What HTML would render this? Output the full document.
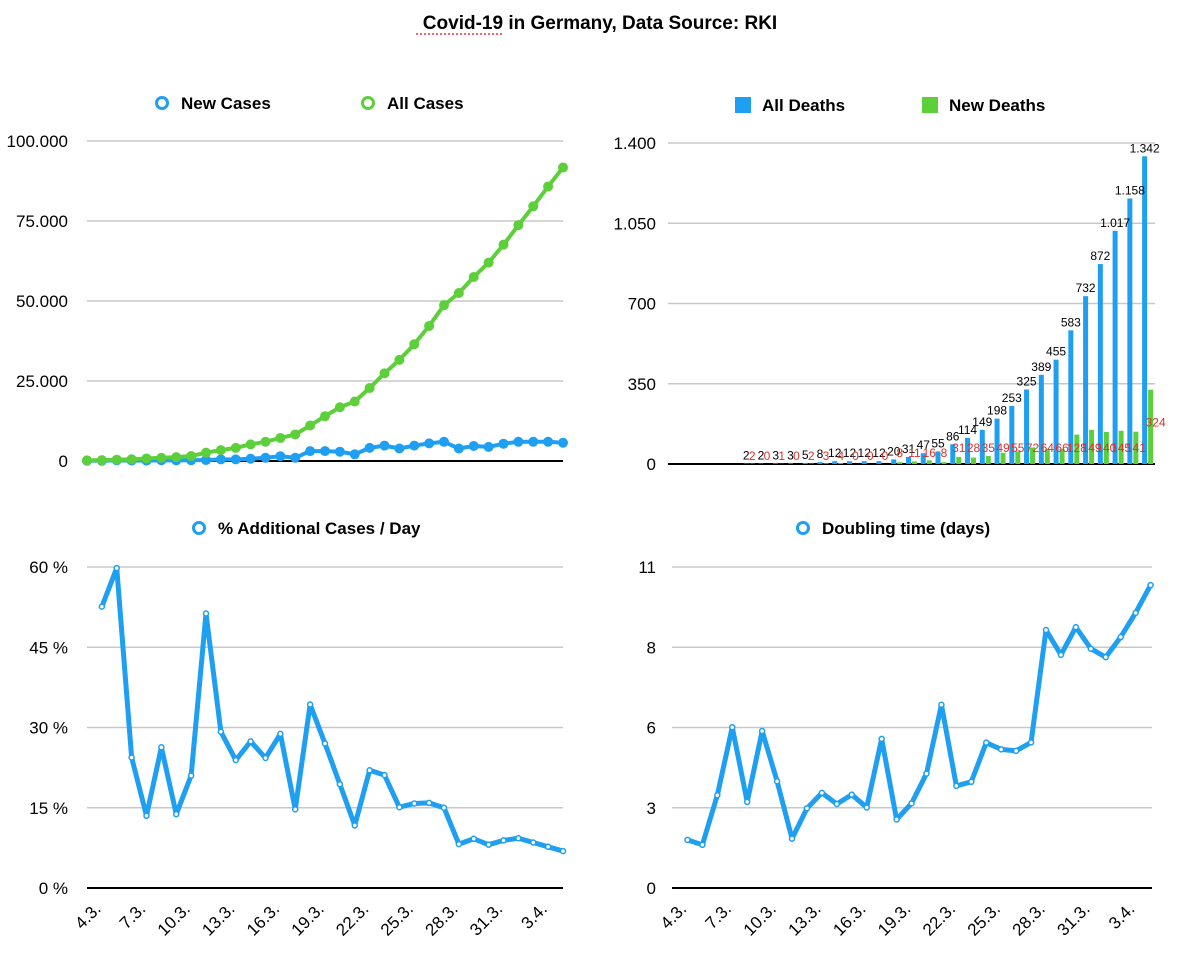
<!DOCTYPE html>
<html><head><meta charset="utf-8"><style>
html,body{margin:0;padding:0;background:#fff;}
svg{display:block;font-family:"Liberation Sans",Arial,sans-serif;}
</style></head><body>
<svg id="c" width="1200" height="957" viewBox="0 0 1200 957">
<text x="600" y="29" text-anchor="middle" font-size="19" font-weight="bold">Covid-19 in Germany, Data Source: RKI</text>
<line x1="416" y1="34" x2="503" y2="34" stroke="#e33" stroke-width="1.5" stroke-dasharray="2,2"/>
</svg>
<script>
const dates = ["3.3.","4.3.","5.3.","6.3.","7.3.","8.3.","9.3.","10.3.","11.3.","12.3.","13.3.","14.3.","15.3.","16.3.","17.3.","18.3.","19.3.","20.3.","21.3.","22.3.","23.3.","24.3.","25.3.","26.3.","27.3.","28.3.","29.3.","30.3.","31.3.","1.4.","2.4.","3.4.","4.4."];
const allCases = [200,260,400,530,800,1000,1200,1550,2600,3400,4100,5200,6000,7200,8300,11100,14000,16800,18600,22800,27400,31600,36500,42200,48700,52500,57500,62000,67600,73700,79600,85800,91700];
const newCases = [100,60,200,150,130,250,200,250,300,500,500,700,1000,1500,1000,3100,3100,2900,2100,4100,4800,3900,4800,5500,6000,3900,4700,4400,5400,6000,6000,6000,5700];
const allDeaths = [0,0,0,0,0,2,2,3,3,5,8,12,12,12,12,20,31,47,55,86,114,149,198,253,325,389,455,583,732,872,1017,1158,1342];
const newDeaths = [0,0,0,0,0,2,0,1,0,2,3,4,0,0,0,8,11,16,8,31,28,35,49,55,72,64,66,128,149,140,145,141,324];
const pctAdd = [52.6,59.8,24.4,13.5,26.3,13.8,21.0,51.3,29.2,23.9,27.4,24.3,28.8,14.7,34.3,27.0,19.4,11.7,22.0,21.1,15.1,15.8,15.9,15.0,8.2,9.2,8.1,8.9,9.3,8.5,7.7,6.9];
const doubling = [1.65,1.48,3.18,5.51,2.95,5.38,3.66,1.69,2.73,3.26,2.88,3.2,2.76,5.11,2.35,2.9,3.92,6.28,3.5,3.64,4.98,4.75,4.70,4.99,8.84,7.99,8.94,8.2,7.91,8.6,9.43,10.38];
const casesTicks = ["0","25.000","50.000","75.000","100.000"];
const deathTicks = ["0","350","700","1.050","1.400"];
const pctTicks = ["0 %","15 %","30 %","45 %","60 %"];
const dblTicks = ["0","3","6","8","11"];

const NS="http://www.w3.org/2000/svg";
const svg=document.getElementById('c');
function mk(tag,attrs,parent){const e=document.createElementNS(NS,tag);for(const k in attrs)e.setAttribute(k,attrs[k]);(parent||svg).appendChild(e);return e;}
const BLUE="#1e9ff2", GREEN="#5ccf3b";

function axes(x0,x1,y0,y1,max,ticks,labelX,name){
  const g=mk('g',{});
  
  
  ticks.forEach((t,i)=>{
    const y=y0-(y0-y1)*i/(ticks.length-1);
    const l=mk('line',{x1:x0,x2:x1,y1:y,y2:y,stroke:i==0?'#000':'#c8c8c8','stroke-width':i==0?2:1.5},g);
    
    
    const tx=mk('text',{x:labelX,y:y+6,'text-anchor':'end','font-size':17},g);
    
    
    tx.textContent=t;
  });
  return v=>y0-(y0-y1)*v/max;
}
function xLabels(xs,y){
  for(let i=1;i<dates.length;i+=3){
    const x=xs(i);
    const t=mk('text',{x:x,y:y,'text-anchor':'end','font-size':17,transform:`rotate(-45 ${x} ${y})`});
    
    
    t.textContent=dates[i];
  }
}
function line(vals,xs,ys,color,w,name,offset,filled){
  const g=mk('g',{});
  
  
  const pts=vals.map((v,i)=>xs(i+offset)+','+ys(v)).join(' ');
  const p=mk('polyline',{points:pts,fill:'none',stroke:color,'stroke-width':w,'stroke-linejoin':'round'},g);
  
  
  vals.forEach((v,i)=>{
    const c=mk('circle',filled?{cx:xs(i+offset),cy:ys(v),r:5,fill:color}:{cx:xs(i+offset),cy:ys(v),r:2.5,fill:'#fff',stroke:color,'stroke-width':1.5},g);
    
    
  });
}
// top-left
const xA=i=>87+i*(476/32);
const yA=axes(87,563,461,141,100000,casesTicks,68,'cases');
line(newCases,xA,yA,BLUE,4,'new-cases-series',0,true);
line(allCases,xA,yA,GREEN,4,'all-cases-series',0,true);
// top-right deaths
const yD=axes(668,1155,464,143,1400,deathTicks,656,'deaths');
const xD=i=>668+(487/33)*(i+0.5);
allDeaths.forEach((v,i)=>{
  if(v<=0&&newDeaths[i]<=0) return;
  const cx=xD(i);
  const b=mk('rect',{x:cx-5.5,y:yD(v),width:5,height:464-yD(v),fill:BLUE});
  
  
  const gb=mk('rect',{x:cx+0.5,y:yD(newDeaths[i]),width:5,height:464-yD(newDeaths[i]),fill:GREEN});
  
  
});
allDeaths.forEach((v,i)=>{
  if(v<=0&&newDeaths[i]<=0) return;
  const cx=xD(i);
  const t=mk('text',{x:cx-3,y:yD(v)-4,'text-anchor':'middle','font-size':12});
  
  
  t.textContent=v>=1000?(String(v).slice(0,1)+'.'+String(v).slice(1)):v;
  let ry = i<15?460:(i<19?457:452);
  let rx = cx+3;
  if(newDeaths[i]>200){ ry=yD(newDeaths[i])+37; rx=cx+8; }
  const r=mk('text',{x:rx,y:ry,'text-anchor':'middle','font-size':12,fill:'#e0302a'});
  
  
  r.textContent=newDeaths[i];
});
// bottom-left
const xP=i=>87+i*(476/32);
const yP=axes(87,563,888,567,60,pctTicks,68,'pct');
line(pctAdd,xP,yP,BLUE,5,'pct-additional-series',1,false);
xLabels(xP,910);
// bottom-right
const xB=i=>672.5+i*14.94;
const yB=axes(672,1152,888,567,11,dblTicks,656,'doubling');
line(doubling,xB,yB,BLUE,5,'doubling-series',1,false);
xLabels(xB,910);

function legend(x,y,text,color,shape,name){
  const g=mk('g',{});
  
  
  if(shape=='circle'){
    const c=mk('circle',{cx:x,cy:y,r:5.5,fill:'#fff',stroke:color,'stroke-width':3},g);
    
    
  }else{
    const r=mk('rect',{x:x-8,y:y-8,width:16,height:16,fill:color},g);
    
    
  }
  const t=mk('text',{x:x+19,y:y+6,'font-size':17,'font-weight':'bold'},g);
  
  
  t.textContent=text;
}
legend(162,103,'New Cases',BLUE,'circle','legend-new-cases');
legend(368,103,'All Cases',GREEN,'circle','legend-all-cases');
legend(743,105,'All Deaths',BLUE,'rect','legend-all-deaths');
legend(930,105,'New Deaths',GREEN,'rect','legend-new-deaths');
legend(199,528,'% Additional Cases / Day',BLUE,'circle','legend-pct-additional');
legend(803,528,'Doubling time (days)',BLUE,'circle','legend-doubling');
</script>
</body></html>
